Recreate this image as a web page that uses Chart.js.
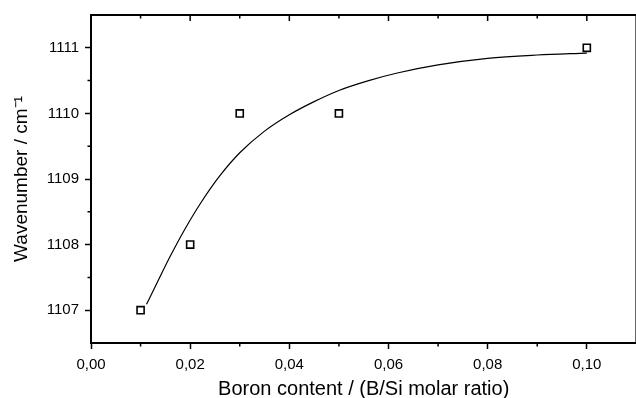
<!DOCTYPE html>
<html>
<head>
<meta charset="utf-8">
<script src="https://cdn.jsdelivr.net/npm/chart.js@4"></script>
<style>
html, body { margin: 0; padding: 0; background: #fff; overflow: hidden; }
#wrap { width: 643px; height: 398px; }
</style>
</head>
<body>
<div id="wrap"><canvas id="boronChart"></canvas></div>
<script>
// measured points
const boronRatio = [0.01, 0.02, 0.03, 0.05, 0.10];
const wavenumber = [1107, 1108, 1110, 1110, 1111];

// fitted curve
const fitRatio = [0.0112, 0.0136, 0.0159, 0.0189, 0.0221, 0.026, 0.030, 0.035, 0.040, 0.045, 0.050, 0.056, 0.062, 0.070, 0.080, 0.090, 0.100];
const fitWavenumber = [1107.09, 1107.46, 1107.81, 1108.23, 1108.63, 1109.05, 1109.40, 1109.73, 1109.98, 1110.18, 1110.35, 1110.50, 1110.62, 1110.74, 1110.84, 1110.89, 1110.92];

// tick positions
const xMajorTicks = [0, 0.02, 0.04, 0.06, 0.08, 0.10];
const xMinorTicks = [0.01, 0.03, 0.05, 0.07, 0.09];
const yMajorTicks = [1107, 1108, 1109, 1110, 1111];
const yMinorTicks = [1107.5, 1108.5, 1109.5, 1110.5];

const font = "Arial, 'Liberation Sans', sans-serif";

// frame, top ticks and minor ticks
const axisExtras = {
    id: 'axisExtras',
    afterDraw(chart) {
        const { ctx, chartArea: a, scales: { x, y } } = chart;
        ctx.save();
        ctx.strokeStyle = '#000';
        ctx.lineWidth = 2;
        ctx.beginPath();
        ctx.moveTo(a.left, a.top);
        ctx.lineTo(a.right, a.top);
        ctx.lineTo(a.right, a.bottom);
        ctx.stroke();

        ctx.lineWidth = 1.5;
        ctx.beginPath();
        xMinorTicks.forEach(v => {
            const px = x.getPixelForValue(v);
            ctx.moveTo(px, a.bottom); ctx.lineTo(px, a.bottom + 3.5);
            ctx.moveTo(px, a.top); ctx.lineTo(px, a.top + 3.5);
        });
        xMajorTicks.forEach(v => {
            const px = x.getPixelForValue(v);
            ctx.moveTo(px, a.top); ctx.lineTo(px, a.top + 6);
        });
        yMinorTicks.forEach(v => {
            const py = y.getPixelForValue(v);
            ctx.moveTo(a.left, py); ctx.lineTo(a.left - 3.5, py);
        });
        ctx.stroke();
        ctx.restore();
    }
};

new Chart(document.getElementById('boronChart'), {
    type: 'scatter',
    data: {
        datasets: [{
            label: 'Measured',
            data: boronRatio.map((v, i) => ({ x: v, y: wavenumber[i] })),
            pointStyle: 'rect',
            pointRadius: 5,
            borderColor: '#000',
            borderWidth: 1.6,
            backgroundColor: '#fff'
        }, {
            type: 'line',
            label: 'Fit',
            data: fitRatio.map((v, i) => ({ x: v, y: fitWavenumber[i] })),
            borderColor: '#000',
            borderWidth: 1.2,
            pointRadius: 0,
            cubicInterpolationMode: 'monotone',
            fill: false
        }]
    },
    options: {
        responsive: true,
        maintainAspectRatio: false,
        animation: false,
        layout: { padding: { left: 9, top: 14, right: 0, bottom: 0 } },
        plugins: { legend: { display: false }, tooltip: { enabled: false } },
        scales: {
            x: {
                type: 'linear',
                min: 0,
                max: 0.11,
                afterBuildTicks: s => { s.ticks = xMajorTicks.map(v => ({ value: v })); },
                afterFit: s => { s.height = 55; },
                ticks: {
                    color: '#000',
                    padding: 7,
                    font: { family: font, size: 15 },
                    callback: v => v.toFixed(2).replace('.', ',')
                },
                grid: { drawOnChartArea: false, tickLength: 6, tickWidth: 1.5, tickColor: '#000' },
                border: { color: '#000', width: 2 },
                title: {
                    display: true,
                    text: 'Boron content / (B/Si molar ratio)',
                    color: '#000',
                    font: { family: font, size: 20 },
                    padding: { top: 2, bottom: -3 }
                }
            },
            y: {
                min: 1106.5,
                max: 1111.5,
                afterBuildTicks: s => { s.ticks = yMajorTicks.map(v => ({ value: v })); },
                afterFit: s => { s.width = 82; },
                ticks: {
                    color: '#000',
                    padding: 6,
                    font: { family: font, size: 15 },
                    callback: v => String(v)
                },
                grid: { drawOnChartArea: false, tickLength: 6, tickWidth: 1.5, tickColor: '#000' },
                border: { color: '#000', width: 2 },
                title: {
                    display: true,
                    text: 'Wavenumber / cm\u207B\u00B9',
                    color: '#000',
                    font: { family: font, size: 19 },
                    padding: { top: 1, bottom: 4 }
                }
            }
        }
    },
    plugins: [axisExtras]
});
</script>
</body>
</html>
